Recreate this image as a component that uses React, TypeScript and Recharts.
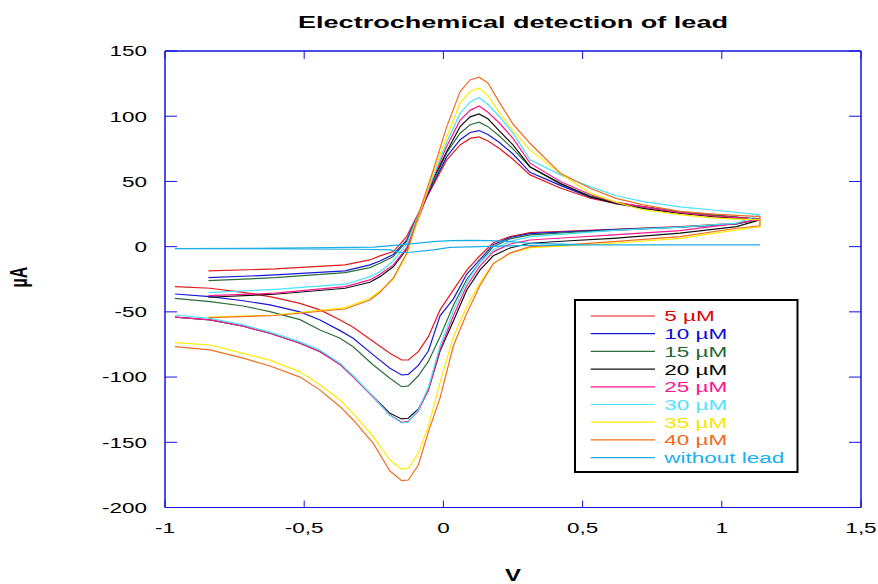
import React from 'react';
import { LineChart, Line, XAxis, YAxis } from 'recharts';

// Potential grids (V)
const FWD_V = [-0.844, -0.605, -0.353, -0.264, -0.228, -0.18, -0.132, -0.084, -0.036, 0.012, 0.06, 0.096, 0.128, 0.16, 0.2, 0.25, 0.311, 0.42, 0.527, 0.62, 0.718, 0.85, 0.97, 1.137];
const REV_V = [1.137, 1.053, 0.85, 0.61, 0.455, 0.311, 0.239, 0.179, 0.131, 0.084, 0.036, -0.012, -0.054, -0.09, -0.126, -0.15, -0.192, -0.252, -0.324, -0.371, -0.443, -0.515, -0.623, -0.719, -0.838, -0.964];

// Currents (µA), forward scan
const I5_F = [-18.6, -17.1, -14, -10.2, -7.1, -3.8, 7.7, 28.1, 47.3, 66.5, 78, 83, 84.1, 81, 75.5, 67, 55, 45, 37.1, 33, 30.7, 26.5, 24.3, 21];
const I10_F = [-23.8, -21.7, -18.6, -14, -11, -6, 5, 27, 48.6, 69, 82, 87.5, 89, 86, 80, 71, 57, 47, 38, 33.5, 30.5, 26.5, 24, 21];
const I15_F = [-26.1, -23.8, -19.9, -16.1, -12.7, -7.5, 4, 27, 50, 72, 87, 93.5, 95.4, 92, 85, 75, 61, 48, 39, 34, 30.5, 26.5, 24, 21];
const I20_F = [-38.8, -36.5, -31.9, -27.3, -23, -15.5, -2, 25, 52, 73, 92, 99.5, 101.8, 98, 89, 78, 61.3, 48.5, 38.3, 33, 29.4, 25.5, 23, 20.5];
const I25_F = [-37.6, -35.7, -30.7, -25.5, -21.2, -14, -1, 25, 53, 77, 97, 104.5, 107.9, 103, 95, 83, 64, 50, 40, 34, 30.5, 26, 23.5, 21];
const I30_F = [-35.3, -32.7, -28.8, -23, -19.2, -11, 2, 28, 54, 80, 102.3, 111, 114.3, 109, 100, 87, 66.5, 55, 46, 39, 34.5, 30.5, 28.1, 24.3];
const I35_F = [-54.1, -52.4, -46.8, -39.6, -34, -25, -6, 26, 57, 84, 110, 118.9, 121.5, 116, 103, 89, 74.2, 56, 41, 34, 28.1, 24.5, 21.8, 20.5];
const I40_F = [-54.5, -52.8, -47.8, -40.9, -35, -24, -5.1, 28.1, 59, 92, 118.9, 127.8, 129.9, 125.5, 111, 94, 79.3, 56.3, 44.8, 37, 32, 27, 25, 23];

// Currents (µA), reverse scan
const I5_R = [21, 17.9, 15.3, 13.3, 12, 10.7, 7.7, 3, -7, -18, -33.2, -48.5, -69, -80.5, -86.9, -86.9, -81.8, -72.8, -61.8, -56.2, -48.5, -43.5, -38.3, -35, -31.9, -30.7];
const I10_R = [21, 17.5, 15, 13, 11.5, 10, 7, 1.5, -10, -21, -40, -53, -80, -91, -97.9, -98.4, -93.3, -83, -70.2, -64.4, -56.2, -50, -44.7, -41.5, -38.3, -36.3];
const I15_R = [21, 17.5, 15, 12.5, 11, 9, 6, 0, -12, -25, -45, -69, -88, -99, -106.8, -107.4, -100.9, -90.7, -76.7, -70.2, -63.9, -56, -49.8, -45.5, -42.2, -39.6];
const I20_R = [20.5, 15.3, 10.3, 6.4, 4.5, 2.6, -1, -7, -18, -33.2, -57, -80, -109.9, -124.5, -131.6, -132.1, -127.8, -115, -99.7, -90, -80.5, -74.1, -66.4, -61, -56.2, -54];
const I25_R = [21, 17.9, 12.3, 9, 7, 5.1, 2, -4, -15, -30, -53, -79, -110, -126, -134, -134.7, -129, -115.5, -100, -90.5, -80.5, -74.1, -66.4, -61, -56.2, -54];
const I30_R = [24.3, 18, 15, 12.5, 10, 7.7, 4, -2.5, -12, -27, -49, -76, -108, -125, -134.5, -135.2, -129.5, -115, -99, -89.5, -79.5, -73, -65.5, -60, -55, -52.4];
const I35_R = [15.3, 12.8, 6.4, 2.6, 0.8, -0.8, -5, -13, -28, -46, -69, -104, -138, -158.4, -169.9, -170.7, -163.6, -145.7, -127.8, -117.6, -106, -96, -87, -81.8, -75.4, -73.6];
const I40_R = [16, 14.1, 7.7, 3.8, 1.5, 0, -5, -13, -30, -51, -76, -116, -142, -167.4, -178.9, -179.4, -172, -150.8, -132.9, -122.7, -110, -100, -91.5, -85.5, -79.2, -76.7];

// Without lead
const NOLEAD_F_V = [-0.964, -0.7, -0.4, -0.25, -0.156, -0.1, -0.036, 0.024, 0.1, 0.167, 0.24, 0.311, 0.49, 0.8, 1.137];
const NOLEAD_F_I = [-1.5, -1.3, -0.8, -0.3, 1.3, 2.5, 3.8, 4.6, 4.8, 4.6, 3.8, 2.6, 1.5, 1.3, 1.3];
const NOLEAD_R_V = [1.137, 0.8, 0.49, 0.311, 0.131, 0.024, -0.036, -0.12, -0.156, -0.19, -0.3, -0.5, -0.7, -0.964];
const NOLEAD_R_I = [1.3, 1.3, 1.3, 1.0, 0, -0.5, -2.5, -4.3, -4.5, -2.5, -2.0, -1.8, -1.6, -1.5];

const SERIES_NAMES = ['5 µM', '10 µM', '15 µM', '20 µM', '25 µM', '30 µM', '35 µM', '40 µM', 'without lead'];
const LINE_COLORS = ['#e21b1b', '#1717d6', '#2b6e3b', '#111111', '#ff1a8c', '#48e2ff', '#ffec00', '#f26d22', '#1aaee6'];
const TEXT_COLORS = ['#e00000', '#0a0ad8', '#1e6a2e', '#000000', '#ff1493', '#50e4ff', '#f5e600', '#f06a25', '#1ab0f0'];

const X_TICKS = [-1, -0.5, 0, 0.5, 1, 1.5];
const X_TICK_LABELS = ['-1', '-0,5', '0', '0,5', '1', '1,5'];
const Y_TICKS = [-200, -150, -100, -50, 0, 50, 100, 150];
const Y_TICK_LABELS = ['-200', '-150', '-100', '-50', '0', '50', '100', '150'];

const FONT = '"Liberation Sans", Arial, Helvetica, sans-serif';
const FRAME = '#1212e0';
const STRETCH = 1.5;
const X_LABEL_MARGIN = 25; // distance from axis line to label baseline
const Y_LABEL_MARGIN = 18; // distance from axis line to label end
const X_TICK_LEN = 7;
const Y_TICK_LEN = 12;

function loop(fv: number[], fi: number[], rv: number[], ri: number[]) {
  return [
    ...fv.map((v, k) => ({ v, i: fi[k] })),
    ...rv.map((v, k) => ({ v, i: ri[k] })),
  ];
}

const SERIES_DATA = [
  loop(FWD_V, I5_F, REV_V, I5_R),
  loop(FWD_V, I10_F, REV_V, I10_R),
  loop(FWD_V, I15_F, REV_V, I15_R),
  loop(FWD_V, I20_F, REV_V, I20_R),
  loop(FWD_V, I25_F, REV_V, I25_R),
  loop(FWD_V, I30_F, REV_V, I30_R),
  loop(FWD_V, I35_F, REV_V, I35_R),
  loop(FWD_V, I40_F, REV_V, I40_R),
  loop(NOLEAD_F_V, NOLEAD_F_I, NOLEAD_R_V, NOLEAD_R_I),
];

// bottom axis: label + inward tick
const XTick = (props: any) => {
  const { x, y, payload } = props;
  const k = X_TICKS.indexOf(payload.value);
  const axisY = y - X_LABEL_MARGIN;
  return (
    <g>
      <line x1={x} x2={x} y1={axisY} y2={axisY - X_TICK_LEN} stroke={FRAME} strokeWidth={1} />
      <g transform={`translate(${x},${y}) scale(${STRETCH},1)`}>
        <text x={0} y={0} textAnchor="middle" fontSize={15} fontFamily={FONT} fill="#000">
          {X_TICK_LABELS[k]}
        </text>
      </g>
    </g>
  );
};

// top axis: inward tick only
const TopTick = (props: any) => {
  const { x, y } = props;
  return <line x1={x} x2={x} y1={y} y2={y + X_TICK_LEN + 1} stroke={FRAME} strokeWidth={1} />;
};

// left axis: label + inward tick
const YTick = (props: any) => {
  const { x, y, payload } = props;
  const k = Y_TICKS.indexOf(payload.value);
  const axisX = x + Y_LABEL_MARGIN;
  return (
    <g>
      <line x1={axisX} x2={axisX + Y_TICK_LEN} y1={y} y2={y} stroke={FRAME} strokeWidth={1} />
      <g transform={`translate(${x},${y}) scale(${STRETCH},1)`}>
        <text x={0} y={5.4} textAnchor="end" fontSize={15} fontFamily={FONT} fill="#000">
          {Y_TICK_LABELS[k]}
        </text>
      </g>
    </g>
  );
};

// right axis: inward tick only
const RightTick = (props: any) => {
  const { x, y } = props;
  return <line x1={x} x2={x - Y_TICK_LEN} y1={y} y2={y} stroke={FRAME} strokeWidth={1} />;
};

export default function App() {
  return (
    <div style={{ position: 'absolute', left: 0, top: 0, width: 878, height: 584, background: '#fff' }}>
      <LineChart width={878} height={584} margin={{ top: 50, right: 16, bottom: 0, left: 0 }}>
        <XAxis
          xAxisId="b"
          type="number"
          dataKey="v"
          domain={[-1, 1.5]}
          ticks={X_TICKS}
          orientation="bottom"
          height={76.5}
          tickSize={0}
          tickMargin={X_LABEL_MARGIN}
          tick={<XTick />}
          tickLine={false}
          axisLine={{ stroke: FRAME, strokeWidth: 1 }}
          allowDataOverflow
        />
        <XAxis
          xAxisId="t"
          type="number"
          dataKey="v"
          domain={[-1, 1.5]}
          ticks={X_TICKS}
          orientation="top"
          height={1}
          tickSize={0}
          tickMargin={0}
          tick={<TopTick />}
          tickLine={false}
          axisLine={{ stroke: FRAME, strokeWidth: 1.5 }}
          allowDataOverflow
        />
        <YAxis
          yAxisId="l"
          type="number"
          domain={[-200, 150]}
          ticks={Y_TICKS}
          width={165}
          tickSize={0}
          tickMargin={Y_LABEL_MARGIN}
          tick={<YTick />}
          tickLine={false}
          axisLine={{ stroke: FRAME, strokeWidth: 1.5 }}
          allowDataOverflow
        />
        <YAxis
          yAxisId="r"
          orientation="right"
          type="number"
          domain={[-200, 150]}
          ticks={Y_TICKS}
          width={1}
          tickSize={0}
          tickMargin={0}
          tick={<RightTick />}
          tickLine={false}
          axisLine={{ stroke: FRAME, strokeWidth: 1.5 }}
          allowDataOverflow
        />
        {SERIES_DATA.map((d, k) => (
          <Line
            key={SERIES_NAMES[k]}
            xAxisId="b"
            yAxisId="l"
            data={d}
            dataKey="i"
            name={SERIES_NAMES[k]}
            type="linear"
            stroke={LINE_COLORS[k]}
            strokeWidth={1.2}
            dot={false}
            activeDot={false}
            isAnimationActive={false}
          />
        ))}
      </LineChart>
      <svg
        width={878}
        height={584}
        style={{ position: 'absolute', left: 0, top: 0, pointerEvents: 'none' }}
      >
        <text
          x={298}
          y={28.3}
          fontSize={17}
          fontWeight="bold"
          fontFamily={FONT}
          fill="#000"
          textLength={430}
          lengthAdjust="spacingAndGlyphs"
        >
          Electrochemical detection of lead
        </text>
        <g transform={`translate(513,581) scale(${STRETCH},1)`}>
          <text x={0} y={0} textAnchor="middle" fontSize={16} fontWeight="bold" fontFamily={FONT} fill="#000">
            V
          </text>
        </g>
        <g transform={`translate(26.5,277) scale(${STRETCH},1) rotate(-90)`}>
          <text x={0} y={0} textAnchor="middle" fontSize={16} fontWeight="bold" fontFamily={FONT} fill="#000">
            µA
          </text>
        </g>
        <rect x={575} y={300} width={222.5} height={172} fill="#fff" stroke="#000" strokeWidth={2} />
        {SERIES_NAMES.map((name, k) => (
          <g key={name}>
            <line x1={590.7} x2={655} y1={316 + 17.7 * k} y2={316 + 17.7 * k} stroke={LINE_COLORS[k]} strokeWidth={1.2} />
            <g transform={`translate(664.3,${316 + 17.7 * k + 5.4}) scale(${STRETCH},1)`}>
              <text x={0} y={0} fontSize={15} fontFamily={FONT} fill={TEXT_COLORS[k]}>
                {name}
              </text>
            </g>
          </g>
        ))}
      </svg>
    </div>
  );
}
